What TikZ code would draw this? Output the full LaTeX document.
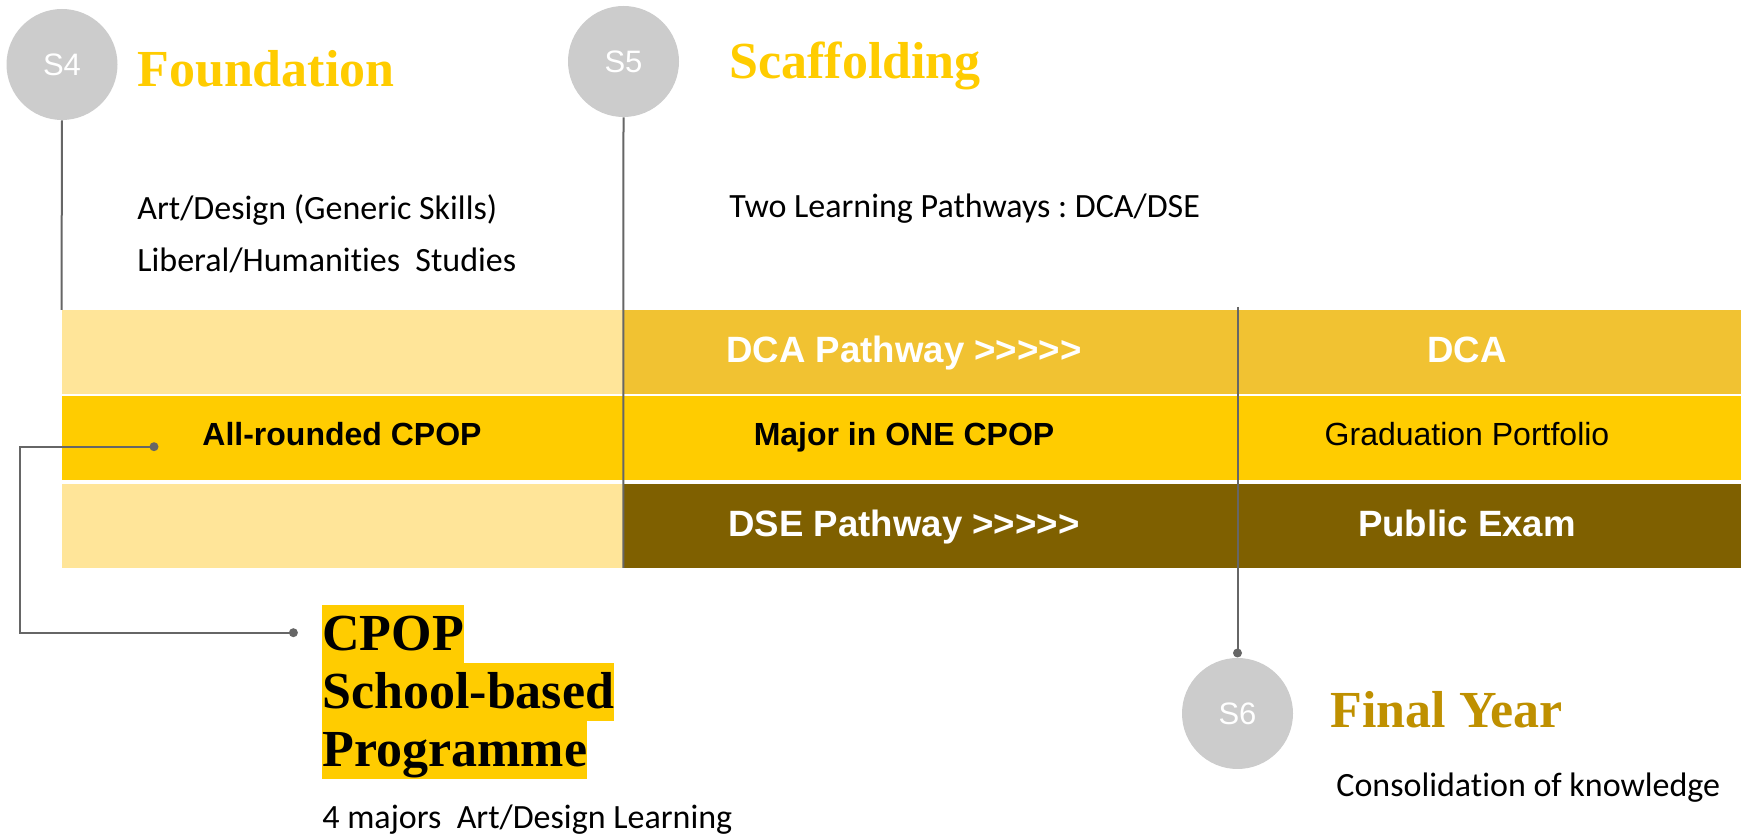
\documentclass[tikz,border=0pt]{standalone}
\usepackage{fontspec}
\setmainfont{Liberation Sans}
\newfontfamily\titlefont{Liberation Serif}
\newfontfamily\bodyfont[Ligatures=NoCommon]{Carlito}
\frenchspacing
\definecolor{lightband}{HTML}{FFE599}
\definecolor{goldband}{HTML}{F1C232}
\definecolor{yellowband}{HTML}{FFCC00}
\definecolor{brownband}{HTML}{7F6000}
\definecolor{circgrey}{HTML}{CCCCCC}
\definecolor{linegrey}{HTML}{666666}
\definecolor{titleyellow}{HTML}{FFCC00}
\definecolor{titlegold}{HTML}{BF9000}
\begin{document}
\begin{tikzpicture}[x=0.5pt,y=-0.5pt,
  stage/.style={circle, fill=circgrey, minimum size=55.5pt, inner sep=0pt, text=white, font=\fontsize{15.5}{18}\selectfont},
  title/.style={anchor=base west, inner sep=0pt, font=\titlefont\bfseries\fontsize{26}{30}\selectfont},
  body/.style={anchor=base west, inner sep=0pt, font=\bodyfont\fontsize{17}{20}\selectfont\frenchspacing},
  bigtext/.style={anchor=base, inner sep=0pt, text=white, font=\bfseries\fontsize{18.3}{22}\selectfont},
  midtext/.style={anchor=base, inner sep=0pt, text=black, font=\bfseries\fontsize{16}{19}\selectfont},
  hl/.style={anchor=base west, inner sep=0pt, fill=yellowband, text height=22.85pt, text depth=6pt, font=\titlefont\bfseries\fontsize{26}{29}\selectfont},
  dot/.style={circle, fill=linegrey, inner sep=0pt, minimum size=4.5pt},
  link/.style={draw=linegrey, line width=1pt}
]
\useasboundingbox[fill=white] (0,0) rectangle (1741,838);

% bands
\fill[lightband] (61.6,310) rectangle (622.8,394);
\fill[lightband] (61.6,484) rectangle (622.8,568);
\fill[goldband] (622.8,310) rectangle (1741,394);
\fill[yellowband] (61.6,396) rectangle (1741,480);
\fill[brownband] (622.8,484) rectangle (1741,568);

% stage circles
\node[stage] (s4) at (62,64.5) {S4};
\node[stage] (s5) at (623.5,61.5) {S5};
\node[stage] (s6) at (1237.5,713.5) {S6};

% timeline lines
\coordinate (s4end) at (61.5,310);
\coordinate (s5end) at (623.3,568);
\coordinate (s6top) at (1237.5,307);
\node[dot] (d3) at (1237.5,653) {};
\draw[link] (s4.south) -- (s4end);
\draw[link] (s5.south) -- (s5end);
\draw[link] (s6top) -- (d3.center);

% titles
\node[title, text=titleyellow] (t4) at (137,87) {Foundation};
\node[title, text=titleyellow] (t5) at (729,79) {Scaffolding};
\node[title, text=titlegold] (t6) at (1330,728) {Final Year};

% body text
\node[body] (b4a) at (137,220) {Art/Design (Generic Skills)};
\node[body] (b4b) at (137,272) {Liberal/Humanities\ \ Studies};
\node[body] (b5) at (729,218) {Two Learning Pathways : DCA/DSE};
\node[body] (b6) at (1336,797) {Consolidation of knowledge};

% band texts
\node[midtext] (allr) at (342,445.7) {All-rounded CPOP};
\node[bigtext] (dcap) at (904,363) {DCA Pathway >{}>{}>{}>{}>};
\node[midtext] (major) at (904,445.7) {Major in ONE CPOP};
\node[bigtext] (dsep) at (904,537) {DSE Pathway >{}>{}>{}>{}>};
\node[bigtext] (dca) at (1467,363) {DCA};
\node[anchor=base, inner sep=0pt, font=\fontsize{16}{19}\selectfont] (grad) at (1467,445.7) {Graduation Portfolio};
\node[bigtext] (pub) at (1467,537) {Public Exam};

% CPOP programme block
\node[hl] (c1) at (322,650.7) {CPOP};
\node[hl] (c2) at (322,708.7) {School-based};
\node[hl] (c3) at (322,766.7) {Programme};
\node[body] (c4) at (322,829) {4 majors\ \ Art/Design Learning};

% connector from All-rounded CPOP to the CPOP block
\node[dot] (d1) at (154,446.7) {};
\node[dot] (d2) at (293.4,632.7) {};
\coordinate (corner) at (20,446.7);
\draw[link] (d1.center) -- (corner) |- (d2.center);
\end{tikzpicture}
\end{document}
